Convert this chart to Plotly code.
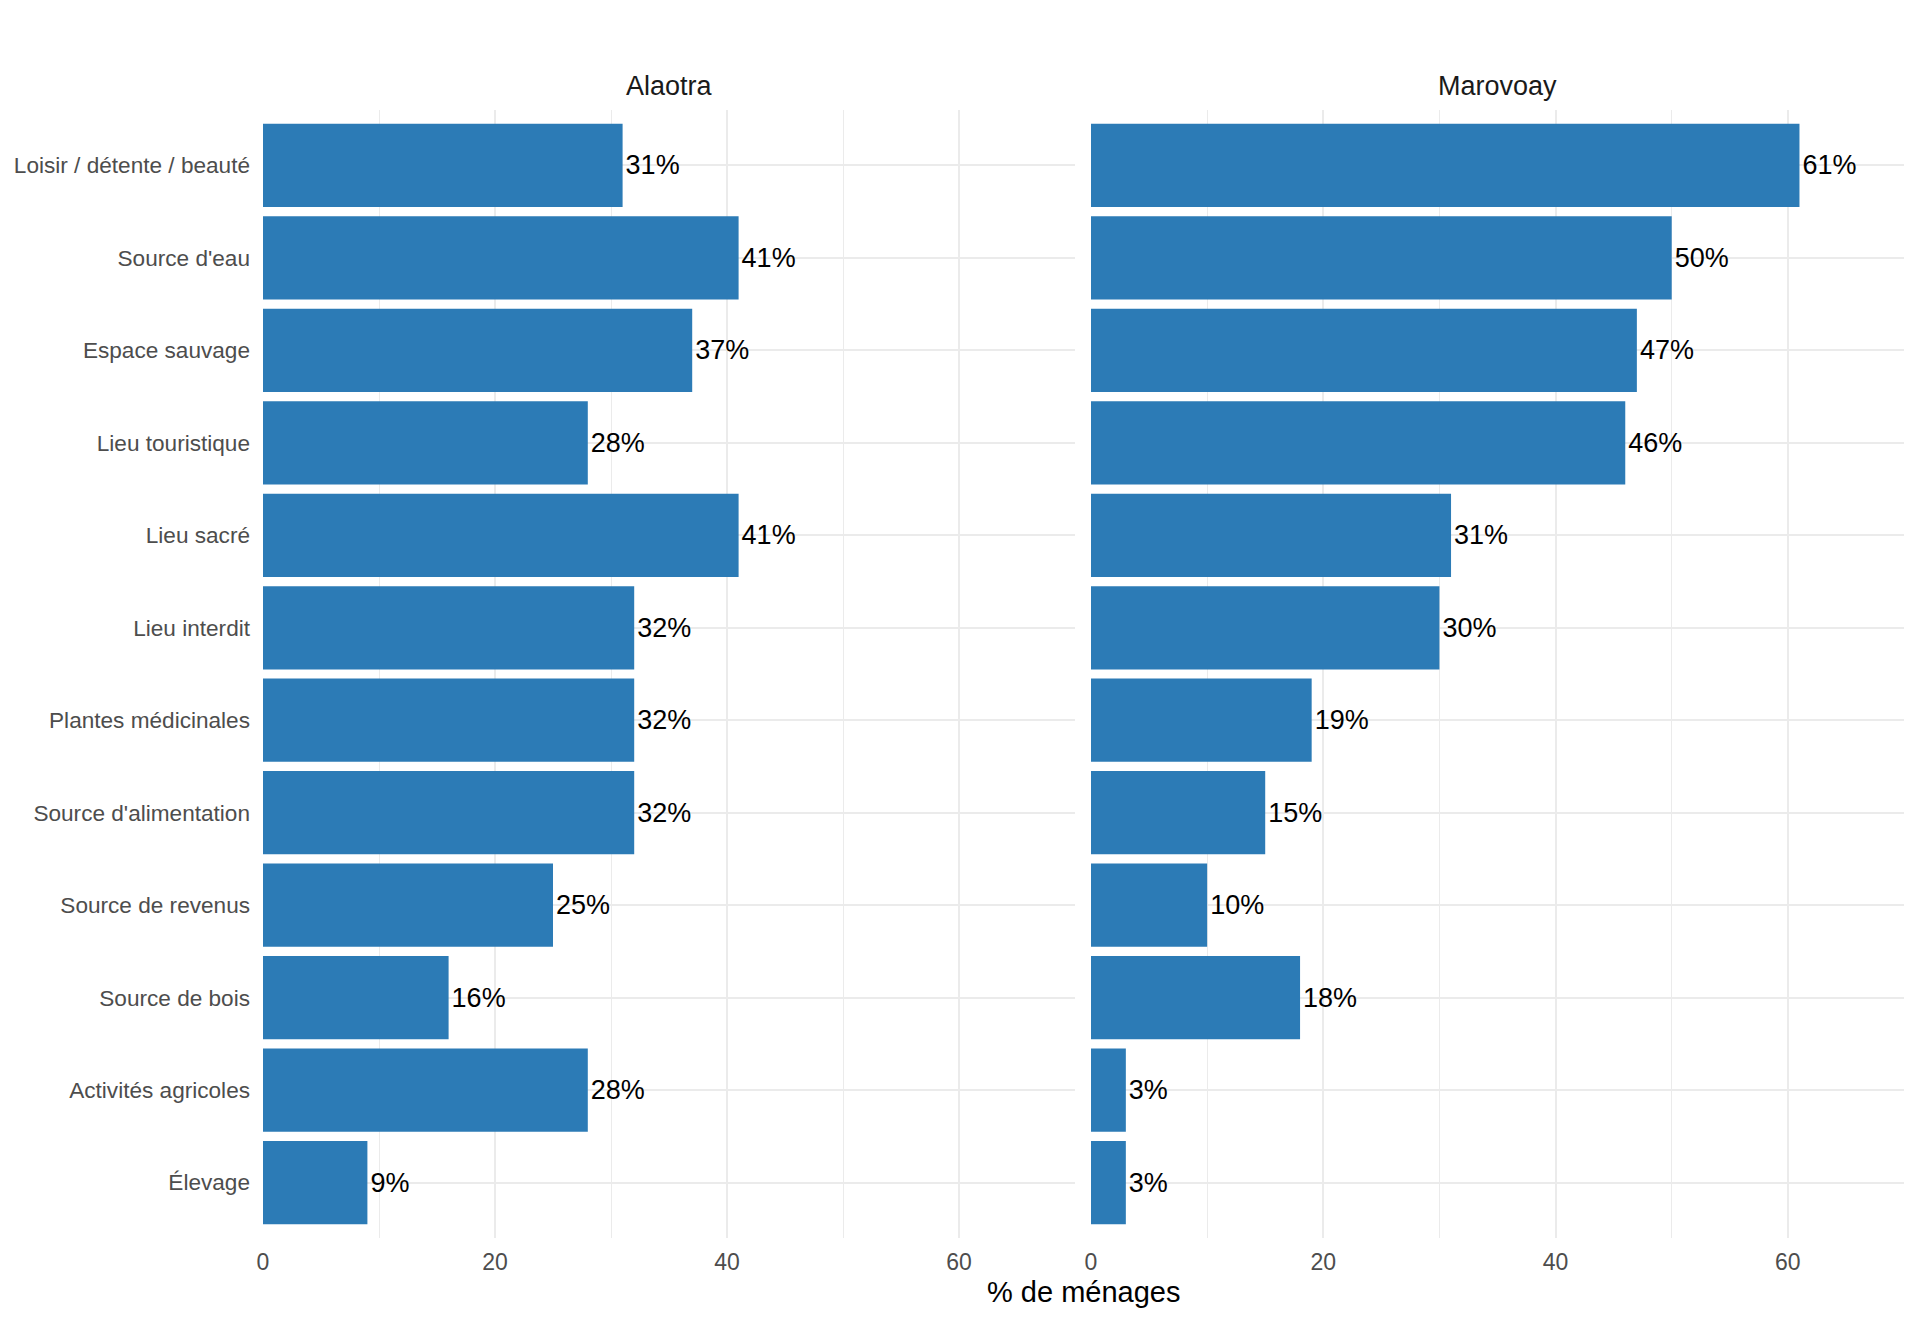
import plotly.graph_objects as go

categories = ["Loisir / détente / beauté", "Source d'eau", "Espace sauvage",
              "Lieu touristique", "Lieu sacré", "Lieu interdit",
              "Plantes médicinales", "Source d'alimentation", "Source de revenus",
              "Source de bois", "Activités agricoles", "Élevage"]
alaotra = [31, 41, 37, 28, 41, 32, 32, 32, 25, 16, 28, 9]
marovoay = [61, 50, 47, 46, 31, 30, 19, 15, 10, 18, 3, 3]
panels = ["Alaotra", "Marovoay"]
x_ticks = [0, 20, 40, 60]
x_title = "% de ménages"

W, H = 1920, 1324
XS, YS = -8, -8   # compensation for page body margin
BAR = "#2C7BB6"
GRID = "#EBEBEB"
FONT = "Liberation Sans, Arial, sans-serif"

def px(p):
    return (p + XS) / W

def py(p):
    return 1 - (p + YS) / H

dom1 = [px(263), px(1075)]
dom2 = [px(1091), px(1904)]
ydom = [py(1238), py(110)]

fig = go.Figure()
for vals, xa, ya in [(alaotra, "x", "y"), (marovoay, "x2", "y2")]:
    fig.add_trace(go.Bar(
        x=vals, y=categories, orientation="h", xaxis=xa, yaxis=ya,
        marker=dict(color=BAR, line=dict(width=0)), width=0.9,
        text=[f"{v}%" for v in vals], textposition="outside",
        textfont=dict(family=FONT, size=27, color="black"),
        constraintext="none", cliponaxis=False, showlegend=False,
        hoverinfo="skip",
    ))

xcommon = dict(range=[0, 70], tickvals=x_ticks, showgrid=True, gridcolor=GRID,
               gridwidth=2, zeroline=False, showline=False, ticks="",
               tickfont=dict(family=FONT, size=23, color="#4D4D4D"),
               ticklabelstandoff=8, automargin=False,
               minor=dict(dtick=10, tick0=0, showgrid=True, gridcolor=GRID, gridwidth=1.3))
ycommon = dict(categoryorder="array", categoryarray=categories,
               range=[len(categories) - 0.4, -0.6], showgrid=True, gridcolor=GRID,
               gridwidth=2, zeroline=False, showline=False, ticks="",
               domain=ydom, automargin=False)

fig.update_layout(
    width=W, height=H, margin=dict(l=0, r=0, t=0, b=0),
    plot_bgcolor="white", paper_bgcolor="white", bargap=0.1,
    font=dict(family=FONT),
    xaxis=dict(**xcommon, domain=dom1, anchor="y"),
    xaxis2=dict(**xcommon, domain=dom2, anchor="y2"),
    yaxis=dict(**ycommon, anchor="x", ticklabelstandoff=12,
               tickfont=dict(family=FONT, size=22.6, color="#4D4D4D")),
    yaxis2=dict(**ycommon, anchor="x2", showticklabels=False, matches="y"),
)

for name, dom in zip(panels, [dom1, dom2]):
    fig.add_annotation(text=name, x=(dom[0] + dom[1]) / 2, y=py(86),
                       xref="paper", yref="paper", showarrow=False,
                       xanchor="center", yanchor="middle",
                       font=dict(family=FONT, size=27, color="#1A1A1A"))

fig.add_annotation(text=x_title, x=(dom1[0] + dom2[1]) / 2, y=py(1292),
                   xref="paper", yref="paper", showarrow=False,
                   xanchor="center", yanchor="middle",
                   font=dict(family=FONT, size=29, color="black"))

fig.write_html("out.html")
